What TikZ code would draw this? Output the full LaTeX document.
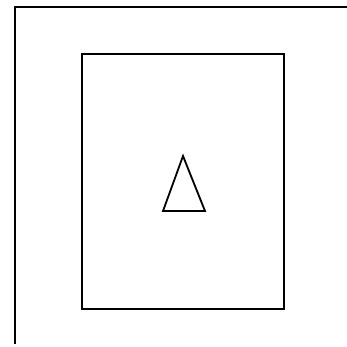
\documentclass[tikz,border=0pt]{standalone}
\usepackage{tikz}

\begin{document}
\begin{tikzpicture}[x=1pt, y=-1pt]
                \tikzstyle{frame} = [line width=2.6pt, line cap=rect]
                \tikzstyle{room} = [line width=2.8pt]
                \tikzstyle{sign} = [line width=1.8pt, line join=miter]
                \useasboundingbox (0,0) rectangle (347,347);

                \coordinate (cornerA) at (15,7);
                \coordinate (frameTop) at (347,7);
                \coordinate (frameBot) at (15,343);

                \draw [frame] (frameBot) -- (cornerA) -- (frameTop);
                \draw [room] (82,54) rectangle (284,309);
                \draw [sign] (183,156) -- (205,211) -- (163,211) -- cycle;
            \end{tikzpicture}
\end{document}
